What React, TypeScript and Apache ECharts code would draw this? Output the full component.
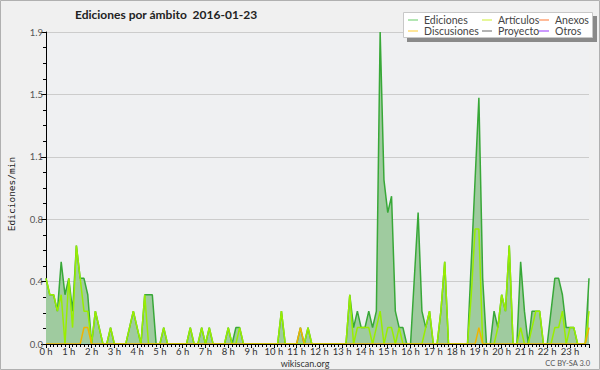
import React, { useEffect, useRef } from "react";
import * as echarts from "echarts";

// 10-minute buckets, 00:00 .. 23:50 (edits per minute)
const ediciones = [
  0.4, 0.3, 0.3, 0.2, 0.5, 0.3, 0.4, 0.2, 0.6, 0.4,
  0.4, 0.3, 0, 0.2, 0.1, 0, 0, 0.1, 0, 0,
  0, 0, 0.1, 0.2, 0.1, 0, 0.3, 0.3, 0.3, 0,
  0, 0.1, 0, 0, 0, 0, 0, 0, 0.1, 0,
  0, 0.1, 0, 0.1, 0, 0, 0, 0, 0.1, 0,
  0.1, 0.1, 0, 0, 0, 0, 0, 0, 0, 0,
  0, 0, 0.2, 0, 0, 0, 0, 0.1, 0, 0.1,
  0, 0, 0, 0, 0, 0, 0, 0, 0, 0,
  0.3, 0.1, 0.2, 0.1, 0.1, 0.2, 0.1, 0.2, 1.9, 1.0,
  0.8, 0.9, 0.2, 0.1, 0.1, 0, 0, 0.4, 0.8, 0.2,
  0.1, 0.2, 0, 0, 0.2, 0.5, 0, 0, 0, 0,
  0, 0, 0.5, 1.0, 1.5, 0.4, 0, 0, 0.2, 0.1,
  0.3, 0.2, 0.6, 0, 0, 0.5, 0.2, 0, 0.2, 0.2,
  0.2, 0, 0, 0.2, 0.4, 0.4, 0.3, 0.1, 0.1, 0.1,
  0, 0, 0, 0.4,
];

const articulos = [
  0.4, 0.3, 0.3, 0.2, 0.3, 0, 0.4, 0.1, 0.6, 0.4,
  0.2, 0.2, 0, 0.2, 0.1, 0, 0, 0.1, 0, 0,
  0, 0, 0.1, 0.2, 0.1, 0, 0.3, 0, 0, 0,
  0, 0.1, 0, 0, 0, 0, 0, 0, 0.1, 0,
  0, 0.1, 0, 0.1, 0, 0, 0, 0, 0.1, 0,
  0, 0.1, 0, 0, 0, 0, 0, 0, 0, 0,
  0, 0, 0.2, 0, 0, 0, 0, 0, 0, 0.1,
  0, 0, 0, 0, 0, 0, 0, 0, 0, 0,
  0.3, 0, 0.1, 0.1, 0.1, 0.1, 0, 0.1, 0.2, 0,
  0.1, 0.1, 0, 0.1, 0, 0, 0, 0, 0, 0,
  0.1, 0.2, 0, 0, 0.2, 0.5, 0, 0, 0, 0,
  0, 0, 0.3, 0.7, 0.7, 0, 0, 0, 0, 0.1,
  0.3, 0.2, 0.6, 0, 0, 0.1, 0, 0, 0.1, 0.2,
  0.2, 0, 0, 0, 0.1, 0.1, 0.2, 0, 0.1, 0.1,
  0, 0, 0, 0.2,
];

const discusiones = [
  0, 0, 0, 0, 0, 0, 0, 0, 0, 0,
  0.1, 0.1, 0, 0, 0, 0, 0, 0, 0, 0,
  0, 0, 0, 0, 0, 0, 0, 0, 0, 0,
  0, 0, 0, 0, 0, 0, 0, 0, 0, 0,
  0, 0, 0, 0, 0, 0, 0, 0, 0, 0,
  0, 0, 0, 0, 0, 0, 0, 0, 0, 0,
  0, 0, 0, 0, 0, 0, 0, 0.1, 0, 0,
  0, 0, 0, 0, 0, 0, 0, 0, 0, 0,
  0, 0, 0, 0, 0, 0, 0, 0, 0, 0,
  0, 0, 0, 0, 0, 0, 0, 0, 0, 0,
  0, 0, 0, 0, 0, 0, 0, 0, 0, 0,
  0, 0, 0, 0, 0.1, 0, 0, 0, 0, 0,
  0, 0, 0, 0, 0, 0, 0, 0, 0, 0,
  0, 0, 0, 0, 0, 0, 0, 0, 0, 0,
  0, 0, 0, 0.1,
];

// series with no visible activity
const anexos: number[] = [];
const proyecto: number[] = [];
const otros: number[] = [];

const yTicks = [0, 0.38, 0.76, 1.14, 1.52, 1.9];
const bucketsPerHour = 6;

const FONT = "'DejaVu Sans', sans-serif";
const NARROW = "Lato, 'DejaVu Sans', sans-serif";

const toPairs = (arr: number[]) => arr.map((v, i) => [i, v]);

export default function App() {
  const ref = useRef<HTMLDivElement>(null);

  useEffect(() => {
    if (!ref.current) return;
    const chart = echarts.init(ref.current, undefined, { renderer: "svg" });

    const legendCommon = {
      orient: "vertical" as const,
      padding: 0,
      itemGap: 0,
      itemWidth: 10,
      itemHeight: 1,
      icon: "rect",
      selectedMode: false,
      z: 6,
      textStyle: { fontFamily: NARROW, fontSize: 10.5, color: "#444", lineHeight: 10, padding: [0, 0, 0, 1] },
    };

    chart.setOption({
      animation: false,
      backgroundColor: "#f0f0f0",
      textStyle: { fontFamily: FONT },
      title: {
        text: "Ediciones por ámbito  2016-01-23",
        left: 75,
        top: 8,
        padding: 0,
        textStyle: { fontFamily: NARROW, fontSize: 12, fontWeight: "bold", color: "#222" },
      },
      legend: [
        {
          ...legendCommon,
          left: 408,
          top: 14.5,
          data: [
            { name: "Ediciones", itemStyle: { color: "#66cc66" } },
            { name: "Discusiones", itemStyle: { color: "#ffcc33" } },
          ],
        },
        {
          ...legendCommon,
          left: 482,
          top: 14.5,
          data: [
            { name: "Artículos", itemStyle: { color: "#ccee33" } },
            { name: "Proyecto", itemStyle: { color: "#666666" } },
          ],
        },
        {
          ...legendCommon,
          left: 539,
          top: 14.5,
          data: [
            { name: "Anexos", itemStyle: { color: "#ff7733" } },
            { name: "Otros", itemStyle: { color: "#9933ff" } },
          ],
        },
      ],
      grid: {
        left: 46,
        right: 11,
        top: 32,
        bottom: 26,
        show: true,
        backgroundColor: "#eff0f2",
        borderWidth: 0,
      },
      xAxis: {
        type: "value",
        min: 0,
        max: ediciones.length - 1,
        interval: bucketsPerHour,
        z: 5,
        axisLine: { show: true, onZero: false, lineStyle: { color: "#000", width: 1 } },
        axisTick: { show: true, length: 4, lineStyle: { color: "#000" } },
        minorTick: { show: true, splitNumber: 6, length: 3, lineStyle: { color: "#000" } },
        splitLine: { show: false },
        axisLabel: {
          color: "#333",
          fontSize: 9.5,
          lineHeight: 10,
          fontFamily: NARROW,
          margin: 2,
          showMaxLabel: false,
          formatter: (v: number) => (v % bucketsPerHour === 0 ? `${v / bucketsPerHour} h` : ""),
        },
      },
      yAxis: {
        type: "value",
        min: yTicks[0],
        max: yTicks[yTicks.length - 1],
        interval: yTicks[1],
        axisLine: { show: true, lineStyle: { color: "#000", width: 1 } },
        axisTick: { show: true, length: 5, lineStyle: { color: "#000" } },
        minorTick: { show: true, splitNumber: 4, length: 3, lineStyle: { color: "#000" } },
        splitLine: { show: true, lineStyle: { color: "#cccccc", width: 1 } },
        axisLabel: {
          color: "#555",
          fontSize: 9.5,
          fontFamily: NARROW,
          margin: 3,
          formatter: (v: number) => v.toFixed(1),
        },
      },
      graphic: [
        {
          type: "rect",
          z: 0,
          silent: true,
          shape: { x: 0.5, y: 0.5, width: 599, height: 369 },
          style: { fill: "none", stroke: "#b0b0b0", lineWidth: 1 },
        },
        {
          type: "rect",
          z: 5,
          silent: true,
          shape: { x: 407, y: 16, width: 190, height: 26 },
          style: { fill: "#8a8a8a" },
        },
        {
          type: "rect",
          z: 5,
          silent: true,
          shape: { x: 403.5, y: 12.5, width: 189, height: 25 },
          style: { fill: "#ffffff", stroke: "#c8c8c8", lineWidth: 1 },
        },
        {
          type: "text",
          z: 6,
          silent: true,
          x: 11,
          y: 194,
          rotation: Math.PI / 2,
          style: {
            text: "Ediciones/min",
            fontFamily: "'DejaVu Sans Mono', monospace",
            fontSize: 9.5,
            fill: "#222",
            align: "center",
            verticalAlign: "middle",
          },
        },
        {
          type: "text",
          z: 6,
          silent: true,
          x: 305,
          y: 363.5,
          style: {
            text: "wikiscan.org",
            fontFamily: NARROW,
            fontSize: 9,
            fill: "#333",
            align: "center",
            verticalAlign: "middle",
          },
        },
        {
          type: "text",
          z: 6,
          silent: true,
          x: 590,
          y: 363,
          style: {
            text: "CC BY-SA 3.0",
            fontFamily: NARROW,
            fontSize: 7.5,
            fill: "#555",
            align: "right",
            verticalAlign: "middle",
          },
        },
      ],
      series: [
        {
          name: "Ediciones",
          type: "line",
          data: toPairs(ediciones),
          showSymbol: false,
          symbol: "none",
          z: 2,
          lineStyle: { color: "#38a838", width: 1.5 },
          itemStyle: { color: "#66cc66" },
          areaStyle: { color: "#9fcb9f", opacity: 1 },
        },
        {
          name: "Artículos",
          type: "line",
          data: toPairs(articulos),
          showSymbol: false,
          symbol: "none",
          z: 3,
          lineStyle: { color: "#99ee00", width: 1.5 },
          itemStyle: { color: "#ccee33" },
        },
        {
          name: "Anexos",
          type: "line",
          data: toPairs(anexos),
          showSymbol: false,
          symbol: "none",
          lineStyle: { color: "#ff7733", width: 1 },
          itemStyle: { color: "#ff7733" },
        },
        {
          name: "Discusiones",
          type: "line",
          data: toPairs(discusiones),
          showSymbol: false,
          symbol: "none",
          z: 3,
          lineStyle: { color: "#f0b400", width: 1.5 },
          itemStyle: { color: "#ffcc33" },
        },
        {
          name: "Proyecto",
          type: "line",
          data: toPairs(proyecto),
          showSymbol: false,
          symbol: "none",
          lineStyle: { color: "#666666", width: 1 },
          itemStyle: { color: "#666666" },
        },
        {
          name: "Otros",
          type: "line",
          data: toPairs(otros),
          showSymbol: false,
          symbol: "none",
          lineStyle: { color: "#9933ff", width: 1 },
          itemStyle: { color: "#9933ff" },
        },
      ],
    });

    return () => chart.dispose();
  }, []);

  return (
    <div
      ref={ref}
      style={{ position: "fixed", left: 0, top: 0, width: 600, height: 370 }}
    />
  );
}
